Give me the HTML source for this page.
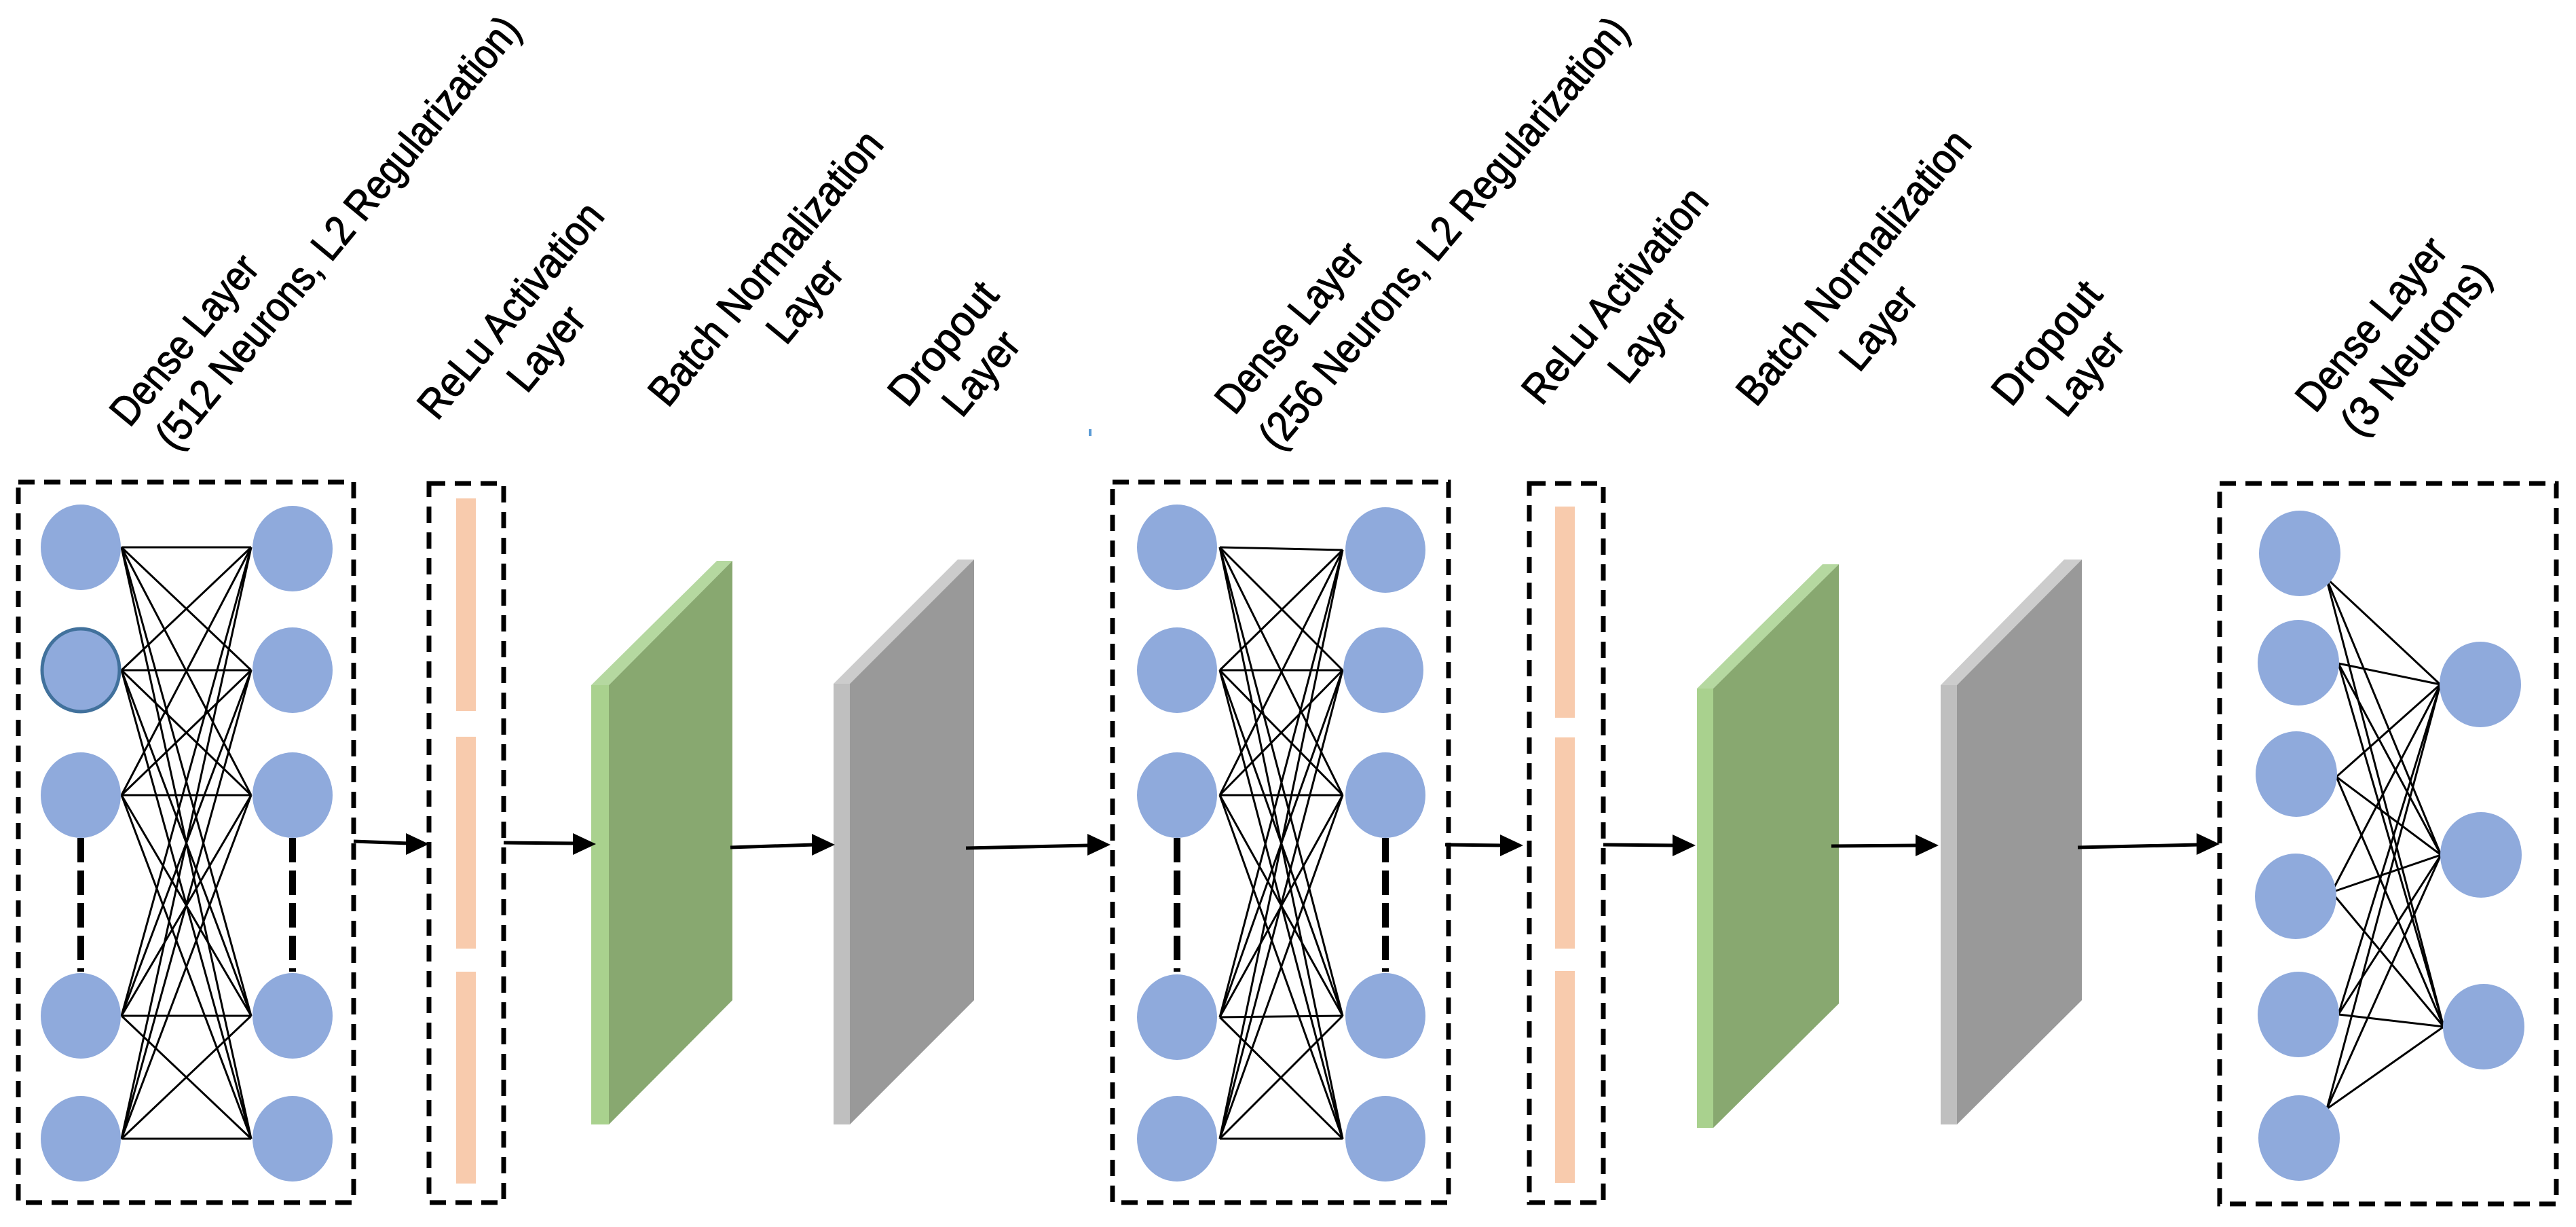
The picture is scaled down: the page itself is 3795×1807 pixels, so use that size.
<!DOCTYPE html>
<html><head><meta charset="utf-8"><style>html,body{margin:0;padding:0;background:#fff}svg{display:block}</style></head>
<body>
<svg width="3795" height="1807" viewBox="0 0 3795 1807" xmlns="http://www.w3.org/2000/svg">
<rect width="3795" height="1807" fill="#fff"/>
<g font-family="Liberation Sans, sans-serif" font-size="62" fill="#000" stroke="#000" stroke-width="1.2">
<text transform="translate(191,631) rotate(-50.5)" textLength="304" lengthAdjust="spacingAndGlyphs">Dense Layer</text>
<text transform="translate(258,666) rotate(-50.5)" textLength="804" lengthAdjust="spacingAndGlyphs">(512 Neurons, L2 Regularization)</text>
<text transform="translate(644,621) rotate(-50.5)" textLength="391" lengthAdjust="spacingAndGlyphs">ReLu Activation</text>
<text transform="translate(776,581) rotate(-50.5)" textLength="141" lengthAdjust="spacingAndGlyphs">Layer</text>
<text transform="translate(984,602) rotate(-50.5)" textLength="503" lengthAdjust="spacingAndGlyphs">Batch Normalization</text>
<text transform="translate(1158,510) rotate(-50.5)" textLength="138" lengthAdjust="spacingAndGlyphs">Layer</text>
<text transform="translate(1337,602) rotate(-50.5)" textLength="215" lengthAdjust="spacingAndGlyphs">Dropout</text>
<text transform="translate(1417,617) rotate(-50.5)" textLength="140" lengthAdjust="spacingAndGlyphs">Layer</text>
<text transform="translate(1819,613) rotate(-50.5)" textLength="304" lengthAdjust="spacingAndGlyphs">Dense Layer</text>
<text transform="translate(1883,666) rotate(-50)" textLength="808" lengthAdjust="spacingAndGlyphs">(256 Neurons, L2 Regularization)</text>
<text transform="translate(2271,599) rotate(-50.5)" textLength="391" lengthAdjust="spacingAndGlyphs">ReLu Activation</text>
<text transform="translate(2398,568) rotate(-50.5)" textLength="140" lengthAdjust="spacingAndGlyphs">Layer</text>
<text transform="translate(2587,601) rotate(-50.5)" textLength="503" lengthAdjust="spacingAndGlyphs">Batch Normalization</text>
<text transform="translate(2739,550) rotate(-50.5)" textLength="140" lengthAdjust="spacingAndGlyphs">Layer</text>
<text transform="translate(2963,601) rotate(-50.5)" textLength="215" lengthAdjust="spacingAndGlyphs">Dropout</text>
<text transform="translate(3044,617) rotate(-50.5)" textLength="140" lengthAdjust="spacingAndGlyphs">Layer</text>
<text transform="translate(3411,610) rotate(-50.5)" textLength="310" lengthAdjust="spacingAndGlyphs">Dense Layer</text>
<text transform="translate(3477,646) rotate(-50.5)" textLength="308" lengthAdjust="spacingAndGlyphs">(3 Neurons)</text>
</g>
<rect x="1604" y="632" width="4" height="10" fill="#5B9BD5"/>

<g fill="none" stroke="#000" stroke-width="7" stroke-dasharray="24 14">
<rect x="27" y="710" width="494" height="1061"/>
<rect x="632" y="712" width="110" height="1059"/>
<rect x="1639" y="710" width="495" height="1061"/>
<rect x="2253" y="712" width="109" height="1059"/>
<rect x="3270" y="712" width="496" height="1061"/>
</g>

<g stroke="#000" stroke-width="3">
<line x1="179" y1="806" x2="370" y2="806"/><line x1="179" y1="806" x2="370" y2="987"/><line x1="179" y1="806" x2="370" y2="1171"/><line x1="179" y1="806" x2="370" y2="1496"/><line x1="179" y1="806" x2="370" y2="1677"/>
<line x1="179" y1="987" x2="370" y2="806"/><line x1="179" y1="987" x2="370" y2="987"/><line x1="179" y1="987" x2="370" y2="1171"/><line x1="179" y1="987" x2="370" y2="1496"/><line x1="179" y1="987" x2="370" y2="1677"/>
<line x1="179" y1="1171" x2="370" y2="806"/><line x1="179" y1="1171" x2="370" y2="987"/><line x1="179" y1="1171" x2="370" y2="1171"/><line x1="179" y1="1171" x2="370" y2="1496"/><line x1="179" y1="1171" x2="370" y2="1677"/>
<line x1="179" y1="1496" x2="370" y2="806"/><line x1="179" y1="1496" x2="370" y2="987"/><line x1="179" y1="1496" x2="370" y2="1171"/><line x1="179" y1="1496" x2="370" y2="1496"/><line x1="179" y1="1496" x2="370" y2="1677"/>
<line x1="179" y1="1677" x2="370" y2="806"/><line x1="179" y1="1677" x2="370" y2="987"/><line x1="179" y1="1677" x2="370" y2="1171"/><line x1="179" y1="1677" x2="370" y2="1496"/><line x1="179" y1="1677" x2="370" y2="1677"/>
<line x1="1797" y1="806" x2="1978" y2="810"/><line x1="1797" y1="806" x2="1978" y2="987"/><line x1="1797" y1="806" x2="1978" y2="1171"/><line x1="1797" y1="806" x2="1978" y2="1496"/><line x1="1797" y1="806" x2="1978" y2="1677"/>
<line x1="1797" y1="987" x2="1978" y2="810"/><line x1="1797" y1="987" x2="1978" y2="987"/><line x1="1797" y1="987" x2="1978" y2="1171"/><line x1="1797" y1="987" x2="1978" y2="1496"/><line x1="1797" y1="987" x2="1978" y2="1677"/>
<line x1="1797" y1="1171" x2="1978" y2="810"/><line x1="1797" y1="1171" x2="1978" y2="987"/><line x1="1797" y1="1171" x2="1978" y2="1171"/><line x1="1797" y1="1171" x2="1978" y2="1496"/><line x1="1797" y1="1171" x2="1978" y2="1677"/>
<line x1="1797" y1="1498" x2="1978" y2="810"/><line x1="1797" y1="1498" x2="1978" y2="987"/><line x1="1797" y1="1498" x2="1978" y2="1171"/><line x1="1797" y1="1498" x2="1978" y2="1496"/><line x1="1797" y1="1498" x2="1978" y2="1677"/>
<line x1="1797" y1="1677" x2="1978" y2="810"/><line x1="1797" y1="1677" x2="1978" y2="987"/><line x1="1797" y1="1677" x2="1978" y2="1171"/><line x1="1797" y1="1677" x2="1978" y2="1496"/><line x1="1797" y1="1677" x2="1978" y2="1677"/>
<line x1="3427" y1="851" x2="3595" y2="1008"/><line x1="3427" y1="851" x2="3596" y2="1259"/><line x1="3427" y1="851" x2="3600" y2="1512"/>
<line x1="3445" y1="977" x2="3595" y2="1008"/><line x1="3445" y1="977" x2="3596" y2="1259"/><line x1="3445" y1="977" x2="3600" y2="1512"/>
<line x1="3442" y1="1144" x2="3595" y2="1008"/><line x1="3442" y1="1144" x2="3596" y2="1259"/><line x1="3442" y1="1144" x2="3600" y2="1512"/>
<line x1="3435" y1="1314" x2="3595" y2="1008"/><line x1="3435" y1="1314" x2="3596" y2="1259"/><line x1="3435" y1="1314" x2="3600" y2="1512"/>
<line x1="3445" y1="1494" x2="3595" y2="1008"/><line x1="3445" y1="1494" x2="3596" y2="1259"/><line x1="3445" y1="1494" x2="3600" y2="1512"/>
<line x1="3428" y1="1633" x2="3595" y2="1008"/><line x1="3428" y1="1633" x2="3596" y2="1259"/><line x1="3428" y1="1633" x2="3600" y2="1512"/>
</g>

<g stroke="#000" stroke-width="10" stroke-dasharray="36 12">
<line x1="119" y1="1234" x2="119" y2="1431"/><line x1="431" y1="1234" x2="431" y2="1431"/>
<line x1="1734" y1="1234" x2="1734" y2="1431"/><line x1="2041" y1="1234" x2="2041" y2="1431"/>
</g>

<g fill="#8FAADC">
<ellipse cx="119" cy="806" rx="59" ry="63"/><ellipse cx="119" cy="987" rx="57" ry="61" stroke="#41719C" stroke-width="5"/><ellipse cx="119" cy="1171" rx="59" ry="63"/><ellipse cx="119" cy="1496" rx="59" ry="63"/><ellipse cx="119" cy="1677" rx="59" ry="63"/>
<ellipse cx="431" cy="808" rx="59" ry="63"/><ellipse cx="431" cy="987" rx="59" ry="63"/><ellipse cx="431" cy="1171" rx="59" ry="63"/><ellipse cx="431" cy="1496" rx="59" ry="63"/><ellipse cx="431" cy="1677" rx="59" ry="63"/>
<ellipse cx="1734" cy="806" rx="59" ry="63"/><ellipse cx="1734" cy="987" rx="59" ry="63"/><ellipse cx="1734" cy="1171" rx="59" ry="63"/><ellipse cx="1734" cy="1498" rx="59" ry="63"/><ellipse cx="1734" cy="1677" rx="59" ry="63"/>
<ellipse cx="2041" cy="810" rx="59" ry="63"/><ellipse cx="2038" cy="987" rx="59" ry="63"/><ellipse cx="2041" cy="1171" rx="59" ry="63"/><ellipse cx="2041" cy="1496" rx="59" ry="63"/><ellipse cx="2041" cy="1677" rx="59" ry="63"/>
<ellipse cx="3388" cy="815" rx="60" ry="63"/><ellipse cx="3386" cy="976" rx="60" ry="63"/><ellipse cx="3383" cy="1140" rx="60" ry="63"/><ellipse cx="3382" cy="1320" rx="60" ry="63"/><ellipse cx="3386" cy="1494" rx="60" ry="63"/><ellipse cx="3387" cy="1676" rx="60" ry="63"/>
<ellipse cx="3654" cy="1008" rx="60" ry="63"/><ellipse cx="3655" cy="1259" rx="60" ry="63"/><ellipse cx="3659" cy="1512" rx="60" ry="63"/>
</g>

<g fill="#F8CBAD">
<rect x="672" y="734" width="29" height="313"/><rect x="672" y="1085" width="29" height="312"/><rect x="672" y="1431" width="29" height="312"/>
<rect x="2291" y="746" width="29" height="311"/><rect x="2291" y="1086" width="29" height="311"/><rect x="2291" y="1430" width="29" height="312"/>
</g>

<polygon points="871,1009 1056,826 1079,826 897,1009" fill="#B5D8A0"/>
<polygon points="897,1009 1079,826 1079,1473 897,1656" fill="#88A870"/>
<rect x="871" y="1009" width="26" height="647" fill="#A9D18E"/>
<polygon points="2500,1014 2685,831 2709,831 2524,1014" fill="#B5D8A0"/>
<polygon points="2524,1014 2709,831 2709,1478 2524,1661" fill="#88A870"/>
<rect x="2500" y="1014" width="24" height="647" fill="#A9D18E"/>

<polygon points="1228,1007 1411,824 1435,824 1252,1007" fill="#CCCCCC"/>
<polygon points="1252,1007 1435,824 1435,1473 1252,1656" fill="#999999"/>
<rect x="1228" y="1007" width="24" height="649" fill="#BFBFBF"/>
<polygon points="2859,1009 3041,824 3067,824 2883,1009" fill="#CCCCCC"/>
<polygon points="2883,1009 3067,824 3067,1473 2883,1656" fill="#999999"/>
<rect x="2859" y="1009" width="24" height="647" fill="#BFBFBF"/>

<g stroke="#000" stroke-width="5">
<line x1="521" y1="1239" x2="602" y2="1242"/>
<line x1="742" y1="1241" x2="848" y2="1242"/>
<line x1="1076" y1="1248" x2="1200" y2="1244"/>
<line x1="1423" y1="1249" x2="1604" y2="1245"/>
<line x1="2129" y1="1244" x2="2214" y2="1245"/>
<line x1="2362" y1="1244" x2="2468" y2="1245"/>
<line x1="2698" y1="1246" x2="2826" y2="1245"/>
<line x1="3061" y1="1248" x2="3240" y2="1244"/>
</g>
<g fill="#000">
<polygon points="632,1243 598,1227 598,1259"/>
<polygon points="878,1243 844,1227 844,1259"/>
<polygon points="1230,1244 1196,1228 1196,1260"/>
<polygon points="1636,1244 1602,1228 1602,1260"/>
<polygon points="2244,1245 2210,1229 2210,1261"/>
<polygon points="2498,1245 2464,1229 2464,1261"/>
<polygon points="2856,1245 2822,1229 2822,1261"/>
<polygon points="3270,1243 3236,1227 3236,1259"/>
</g>
</svg>
</body></html>
